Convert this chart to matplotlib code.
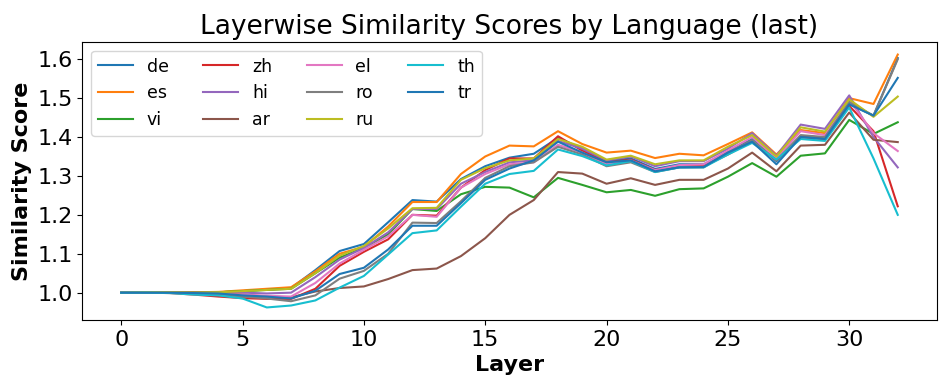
import numpy as np
import matplotlib
matplotlib.use("Agg")
import matplotlib.pyplot as plt
from matplotlib.ticker import MultipleLocator

layers = list(range(33))

langs = ['de', 'es', 'vi', 'zh', 'hi', 'ar', 'el', 'ro', 'ru', 'th', 'tr']

de = [1.000, 1.001, 1.001, 1.000, 1.001, 1.004, 1.008, 1.012, 1.058, 1.107, 1.125, 1.181, 1.238, 1.234, 1.292,
      1.325, 1.347, 1.357, 1.398, 1.370, 1.338, 1.345, 1.318, 1.330, 1.330, 1.360, 1.395, 1.338, 1.402, 1.398,
      1.485, 1.455, 1.603]
es = [1.000, 1.001, 1.001, 1.001, 1.002, 1.006, 1.010, 1.014, 1.055, 1.100, 1.118, 1.170, 1.233, 1.233, 1.305,
      1.350, 1.378, 1.376, 1.415, 1.382, 1.360, 1.365, 1.346, 1.357, 1.353, 1.382, 1.412, 1.355, 1.418, 1.410,
      1.500, 1.485, 1.612]
vi = [1.000, 1.001, 1.001, 1.000, 1.001, 1.004, 1.007, 1.010, 1.050, 1.090, 1.115, 1.150, 1.215, 1.210, 1.253,
      1.272, 1.270, 1.245, 1.295, 1.277, 1.258, 1.264, 1.249, 1.266, 1.268, 1.298, 1.333, 1.298, 1.352, 1.358,
      1.444, 1.408, 1.438]
zh = [1.000, 1.000, 0.999, 0.995, 0.990, 0.986, 0.984, 0.984, 1.010, 1.069, 1.105, 1.137, 1.200, 1.198, 1.270,
      1.315, 1.345, 1.345, 1.402, 1.365, 1.335, 1.342, 1.315, 1.325, 1.325, 1.355, 1.390, 1.340, 1.400, 1.395,
      1.480, 1.415, 1.222]
hi = [1.000, 1.000, 1.000, 1.000, 1.000, 1.000, 0.998, 1.000, 1.040, 1.085, 1.115, 1.155, 1.215, 1.215, 1.280,
      1.310, 1.335, 1.340, 1.390, 1.370, 1.340, 1.350, 1.325, 1.338, 1.338, 1.370, 1.410, 1.352, 1.432, 1.421,
      1.507, 1.400, 1.322]
ar = [1.000, 1.000, 1.000, 1.000, 0.999, 0.995, 0.990, 0.988, 1.003, 1.012, 1.016, 1.035, 1.058, 1.062, 1.094,
      1.140, 1.200, 1.238, 1.310, 1.306, 1.280, 1.294, 1.277, 1.290, 1.290, 1.319, 1.360, 1.312, 1.378, 1.380,
      1.463, 1.393, 1.387]
el = [1.000, 1.000, 1.000, 0.999, 0.997, 0.995, 0.992, 0.990, 1.025, 1.075, 1.110, 1.145, 1.200, 1.195, 1.270,
      1.305, 1.330, 1.335, 1.380, 1.360, 1.330, 1.340, 1.315, 1.328, 1.330, 1.365, 1.400, 1.345, 1.415, 1.405,
      1.495, 1.410, 1.364]
ro = [1.000, 1.000, 1.000, 0.998, 0.996, 0.990, 0.985, 0.978, 0.993, 1.036, 1.056, 1.100, 1.180, 1.179, 1.235,
      1.295, 1.325, 1.335, 1.375, 1.355, 1.325, 1.335, 1.310, 1.322, 1.322, 1.360, 1.392, 1.340, 1.405, 1.400,
      1.490, 1.455, 1.600]
ru = [1.000, 1.001, 1.001, 1.000, 1.001, 1.004, 1.007, 1.010, 1.050, 1.095, 1.120, 1.165, 1.217, 1.218, 1.290,
      1.320, 1.340, 1.345, 1.395, 1.375, 1.342, 1.352, 1.330, 1.340, 1.340, 1.375, 1.405, 1.350, 1.425, 1.414,
      1.497, 1.452, 1.504]
th = [1.000, 1.000, 0.999, 0.995, 0.993, 0.985, 0.962, 0.967, 0.980, 1.013, 1.043, 1.098, 1.153, 1.160, 1.221,
      1.280, 1.305, 1.313, 1.368, 1.351, 1.327, 1.338, 1.310, 1.322, 1.322, 1.355, 1.385, 1.342, 1.395, 1.390,
      1.476, 1.345, 1.200]
tr = [1.000, 1.000, 1.000, 0.999, 0.998, 0.993, 0.990, 0.985, 1.005, 1.048, 1.064, 1.111, 1.172, 1.172, 1.230,
      1.290, 1.319, 1.340, 1.388, 1.360, 1.335, 1.340, 1.312, 1.322, 1.323, 1.360, 1.388, 1.330, 1.400, 1.395,
      1.484, 1.455, 1.552]

scores = [de, es, vi, zh, hi, ar, el, ro, ru, th, tr]

fig, ax = plt.subplots(figsize=(9.47, 3.88), dpi=100)
for lang, s in zip(langs, scores):
    ax.plot(layers, s, label=lang, linewidth=1.5)

ax.set_title('Layerwise Similarity Scores by Language (last)', fontsize=19)
ax.set_xlabel('Layer', fontsize=16, fontweight='bold')
ax.set_ylabel('Similarity Score', fontsize=16, fontweight='bold')
ax.yaxis.set_major_locator(MultipleLocator(0.1))
ax.tick_params(labelsize=16)
ax.legend(ncol=4, loc='upper left', fontsize=12.5)

plt.subplots_adjust(left=0.087, right=0.989, bottom=0.175, top=0.892)
plt.savefig('out.png')
